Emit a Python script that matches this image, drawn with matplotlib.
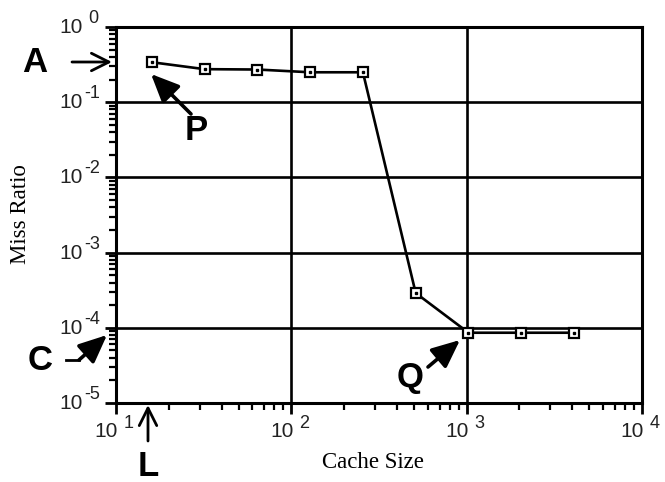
import matplotlib
matplotlib.use("Agg")
import matplotlib.pyplot as plt
import numpy as np
from matplotlib.ticker import LogLocator, NullFormatter

# data
cache_size = [16, 32, 64, 128, 256, 512, 1024, 2048, 4096]
miss_ratio = [0.34, 0.275, 0.272, 0.25, 0.25, 2.9e-4, 8.6e-5, 8.6e-5, 8.6e-5]
x_exponents = [1, 2, 3, 4]
y_exponents = [0, -1, -2, -3, -4, -5]

plt.rcParams['font.family'] = ['Liberation Sans', 'DejaVu Sans']

W, H = 665, 482
fig = plt.figure(figsize=(W / 100, H / 100), dpi=100)
ax = fig.add_axes([116 / W, 1 - 403 / H, 526 / W, 376 / H])

ax.set_xscale('log')
ax.set_yscale('log')
ax.set_xlim(10, 1e4)
ax.set_ylim(1e-5, 1)

# grid at major decades
ax.grid(True, which='major', color='black', lw=1.9)
ax.set_axisbelow(True)

ax.plot(cache_size, miss_ratio, color='black', lw=1.9, marker='s', ms=7.5,
        mfc='white', mec='black', mew=1.6, zorder=3)
ax.plot(cache_size, miss_ratio, ls='none', marker='s', ms=1.8, color='black', zorder=4)

for s in ax.spines.values():
    s.set_linewidth(2.2)

ax.xaxis.set_major_locator(LogLocator(base=10, numticks=10))
ax.yaxis.set_major_locator(LogLocator(base=10, numticks=10))
ax.xaxis.set_minor_locator(LogLocator(base=10, subs=np.arange(2, 10), numticks=10))
ax.yaxis.set_minor_locator(LogLocator(base=10, subs=np.arange(2, 10), numticks=10))
ax.xaxis.set_major_formatter(NullFormatter())
ax.yaxis.set_major_formatter(NullFormatter())
ax.xaxis.set_minor_formatter(NullFormatter())
ax.yaxis.set_minor_formatter(NullFormatter())
ax.tick_params(which='major', length=8, width=2)
ax.tick_params(which='minor', length=5, width=1.6)

# tick labels drawn by hand: "10" plus a big raised exponent
lab_col = '#222222'
for e in y_exponents:
    ax.annotate('10', xy=(0, 10.0 ** e), xycoords=ax.get_yaxis_transform(),
                xytext=(-33, -6), textcoords='offset pixels', ha='right', va='baseline',
                fontsize=15, color=lab_col, annotation_clip=False)
    ax.annotate(str(e), xy=(0, 10.0 ** e), xycoords=ax.get_yaxis_transform(),
                xytext=(-16 if e else -18, 4), textcoords='offset pixels', ha='right',
                va='baseline', fontsize=13, color=lab_col, annotation_clip=False)
for e in x_exponents:
    ax.annotate('10', xy=(10.0 ** e, 0), xycoords=ax.get_xaxis_transform(),
                xytext=(2, -34), textcoords='offset pixels', ha='right', va='baseline',
                fontsize=15, color=lab_col, annotation_clip=False)
    ax.annotate(str(e), xy=(10.0 ** e, 0), xycoords=ax.get_xaxis_transform(),
                xytext=(8, -25), textcoords='offset pixels', ha='left', va='baseline',
                fontsize=13, color=lab_col, annotation_clip=False)

fig.text(373 / W, 1 - 463 / H, 'Cache Size', family='Liberation Serif', fontsize=16.5,
         ha='center', va='center')
fig.text(21 / W, 1 - 214 / H, 'Miss Ratio', family='Liberation Serif', fontsize=16.5,
         ha='center', va='center', rotation=90)


def px(x, y):
    # pixel measured from top-left -> figure pixels
    return (x, H - y)


def arrow(tail, tip, filled=True):
    if filled:
        props = dict(arrowstyle='-|>,head_length=0.9,head_width=0.4', lw=2.6,
                     color='black', shrinkA=0, shrinkB=0, mutation_scale=19)
    else:
        props = dict(arrowstyle='->,head_length=0.9,head_width=0.45', lw=2,
                     color='black', shrinkA=0, shrinkB=0, mutation_scale=14)
    ax.annotate('', xy=px(*tip), xytext=px(*tail), xycoords='figure pixels',
                textcoords='figure pixels', annotation_clip=False, arrowprops=props)


def letter(x, y, s):
    fig.text(x / W, 1 - y / H, s, fontsize=25, fontweight='bold', ha='center', va='center')


letter(35, 62, 'A')
arrow((72, 62), (112, 62), filled=False)

letter(196, 131, 'P')
arrow((191, 114), (151, 74))

letter(410, 377, 'Q')
arrow((428, 367), (460, 340))

letter(40, 360, 'C')
fig.add_artist(plt.Line2D([66 / W, 79 / W], [1 - 360 / H, 1 - 360 / H], color='black', lw=2))
arrow((79, 360), (107, 335))

letter(148, 466, 'L')
arrow((148, 441), (148, 405), filled=False)

fig.savefig('out.png', dpi=100)
